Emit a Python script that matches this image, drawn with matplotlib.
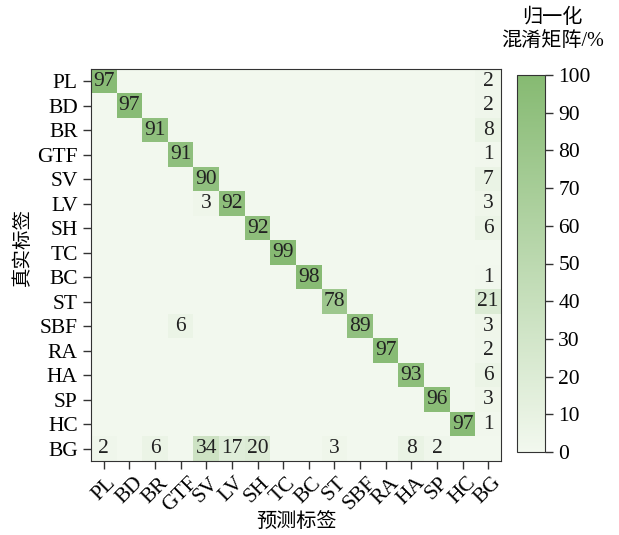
import numpy as np
import matplotlib
matplotlib.use("Agg")
import matplotlib.pyplot as plt
from matplotlib.colors import LinearSegmentedColormap

# DATA
######

classes = ["PL", "BD", "BR", "GTF", "SV", "LV", "SH", "TC",
           "BC", "ST", "SBF", "RA", "HA", "SP", "HC", "BG"]

# non-zero cells per true-label row: {predicted label: percent}
rows = {
    "PL": {"PL": 97, "BG": 2},
    "BD": {"BD": 97, "BG": 2},
    "BR": {"BR": 91, "BG": 8},
    "GTF": {"GTF": 91, "BG": 1},
    "SV": {"SV": 90, "BG": 7},
    "LV": {"SV": 3, "LV": 92, "BG": 3},
    "SH": {"SH": 92, "BG": 6},
    "TC": {"TC": 99},
    "BC": {"BC": 98, "BG": 1},
    "ST": {"ST": 78, "BG": 21},
    "SBF": {"GTF": 6, "SBF": 89, "BG": 3},
    "RA": {"RA": 97, "BG": 2},
    "HA": {"HA": 93, "BG": 6},
    "SP": {"SP": 96, "BG": 3},
    "HC": {"HC": 97, "BG": 1},
    "BG": {"PL": 2, "BR": 6, "SV": 34, "LV": 17, "SH": 20,
           "ST": 3, "HA": 8, "SP": 2},
}

cbar_ticks = [0, 10, 20, 30, 40, 50, 60, 70, 80, 90, 100]

# build the matrix
n = len(classes)
mat = np.zeros((n, n))
for i, t in enumerate(classes):
    for p, v in rows[t].items():
        mat[i, classes.index(p)] = v

plt.rcParams['font.family'] = ['Liberation Serif', 'Noto Sans CJK SC']
plt.rcParams['axes.edgecolor'] = '#333333'

FS = 15.5
cmap = LinearSegmentedColormap.from_list("grn", ["#f2f8ee", "#86ba72"])

fig = plt.figure(figsize=(6.19, 5.35), dpi=100)
ax = fig.add_axes((91 / 619, 1 - 461 / 535, 410 / 619, 392 / 535))
im = ax.imshow(mat, cmap=cmap, vmin=0, vmax=100, aspect='auto')

for i in range(n):
    for j in range(n):
        if mat[i, j] > 0:
            ax.text(j, i, "%d" % mat[i, j], ha='center', va='center',
                    fontsize=FS, color='#222222')

ax.set_xticks(range(n))
ax.set_yticks(range(n))
ax.set_xticklabels(classes, rotation=45, ha='center', fontsize=FS)
ax.set_yticklabels(classes, fontsize=FS)
ax.tick_params(length=6, width=1, color='#333333')
ax.tick_params(axis='x', pad=3)

# axis titles placed by hand so the bottom one stays inside the figure
ax.set_xlabel("预测标签", fontsize=14.5, va='center')
ax.xaxis.set_label_coords(0.5, -0.157)
ax.set_ylabel("真实标签", fontsize=14, va='center')
ax.yaxis.set_label_coords(-0.166, 0.546)

cax = fig.add_axes((517 / 619, 1 - 452 / 535, 28 / 619, 377 / 535))
cb = fig.colorbar(im, cax=cax, ticks=cbar_ticks)
cb.ax.tick_params(labelsize=FS, length=6, width=1, color='#333333')
cb.outline.set_edgecolor('#333333')
fig.text(552 / 619, 1 - 18 / 535, "归一化", ha='center', va='center',
         fontsize=14.5)
fig.text(553 / 619, 1 - 41 / 535, "混淆矩阵/%", ha='center', va='center',
         fontsize=14.5)

fig.savefig("out.png", dpi=100)
